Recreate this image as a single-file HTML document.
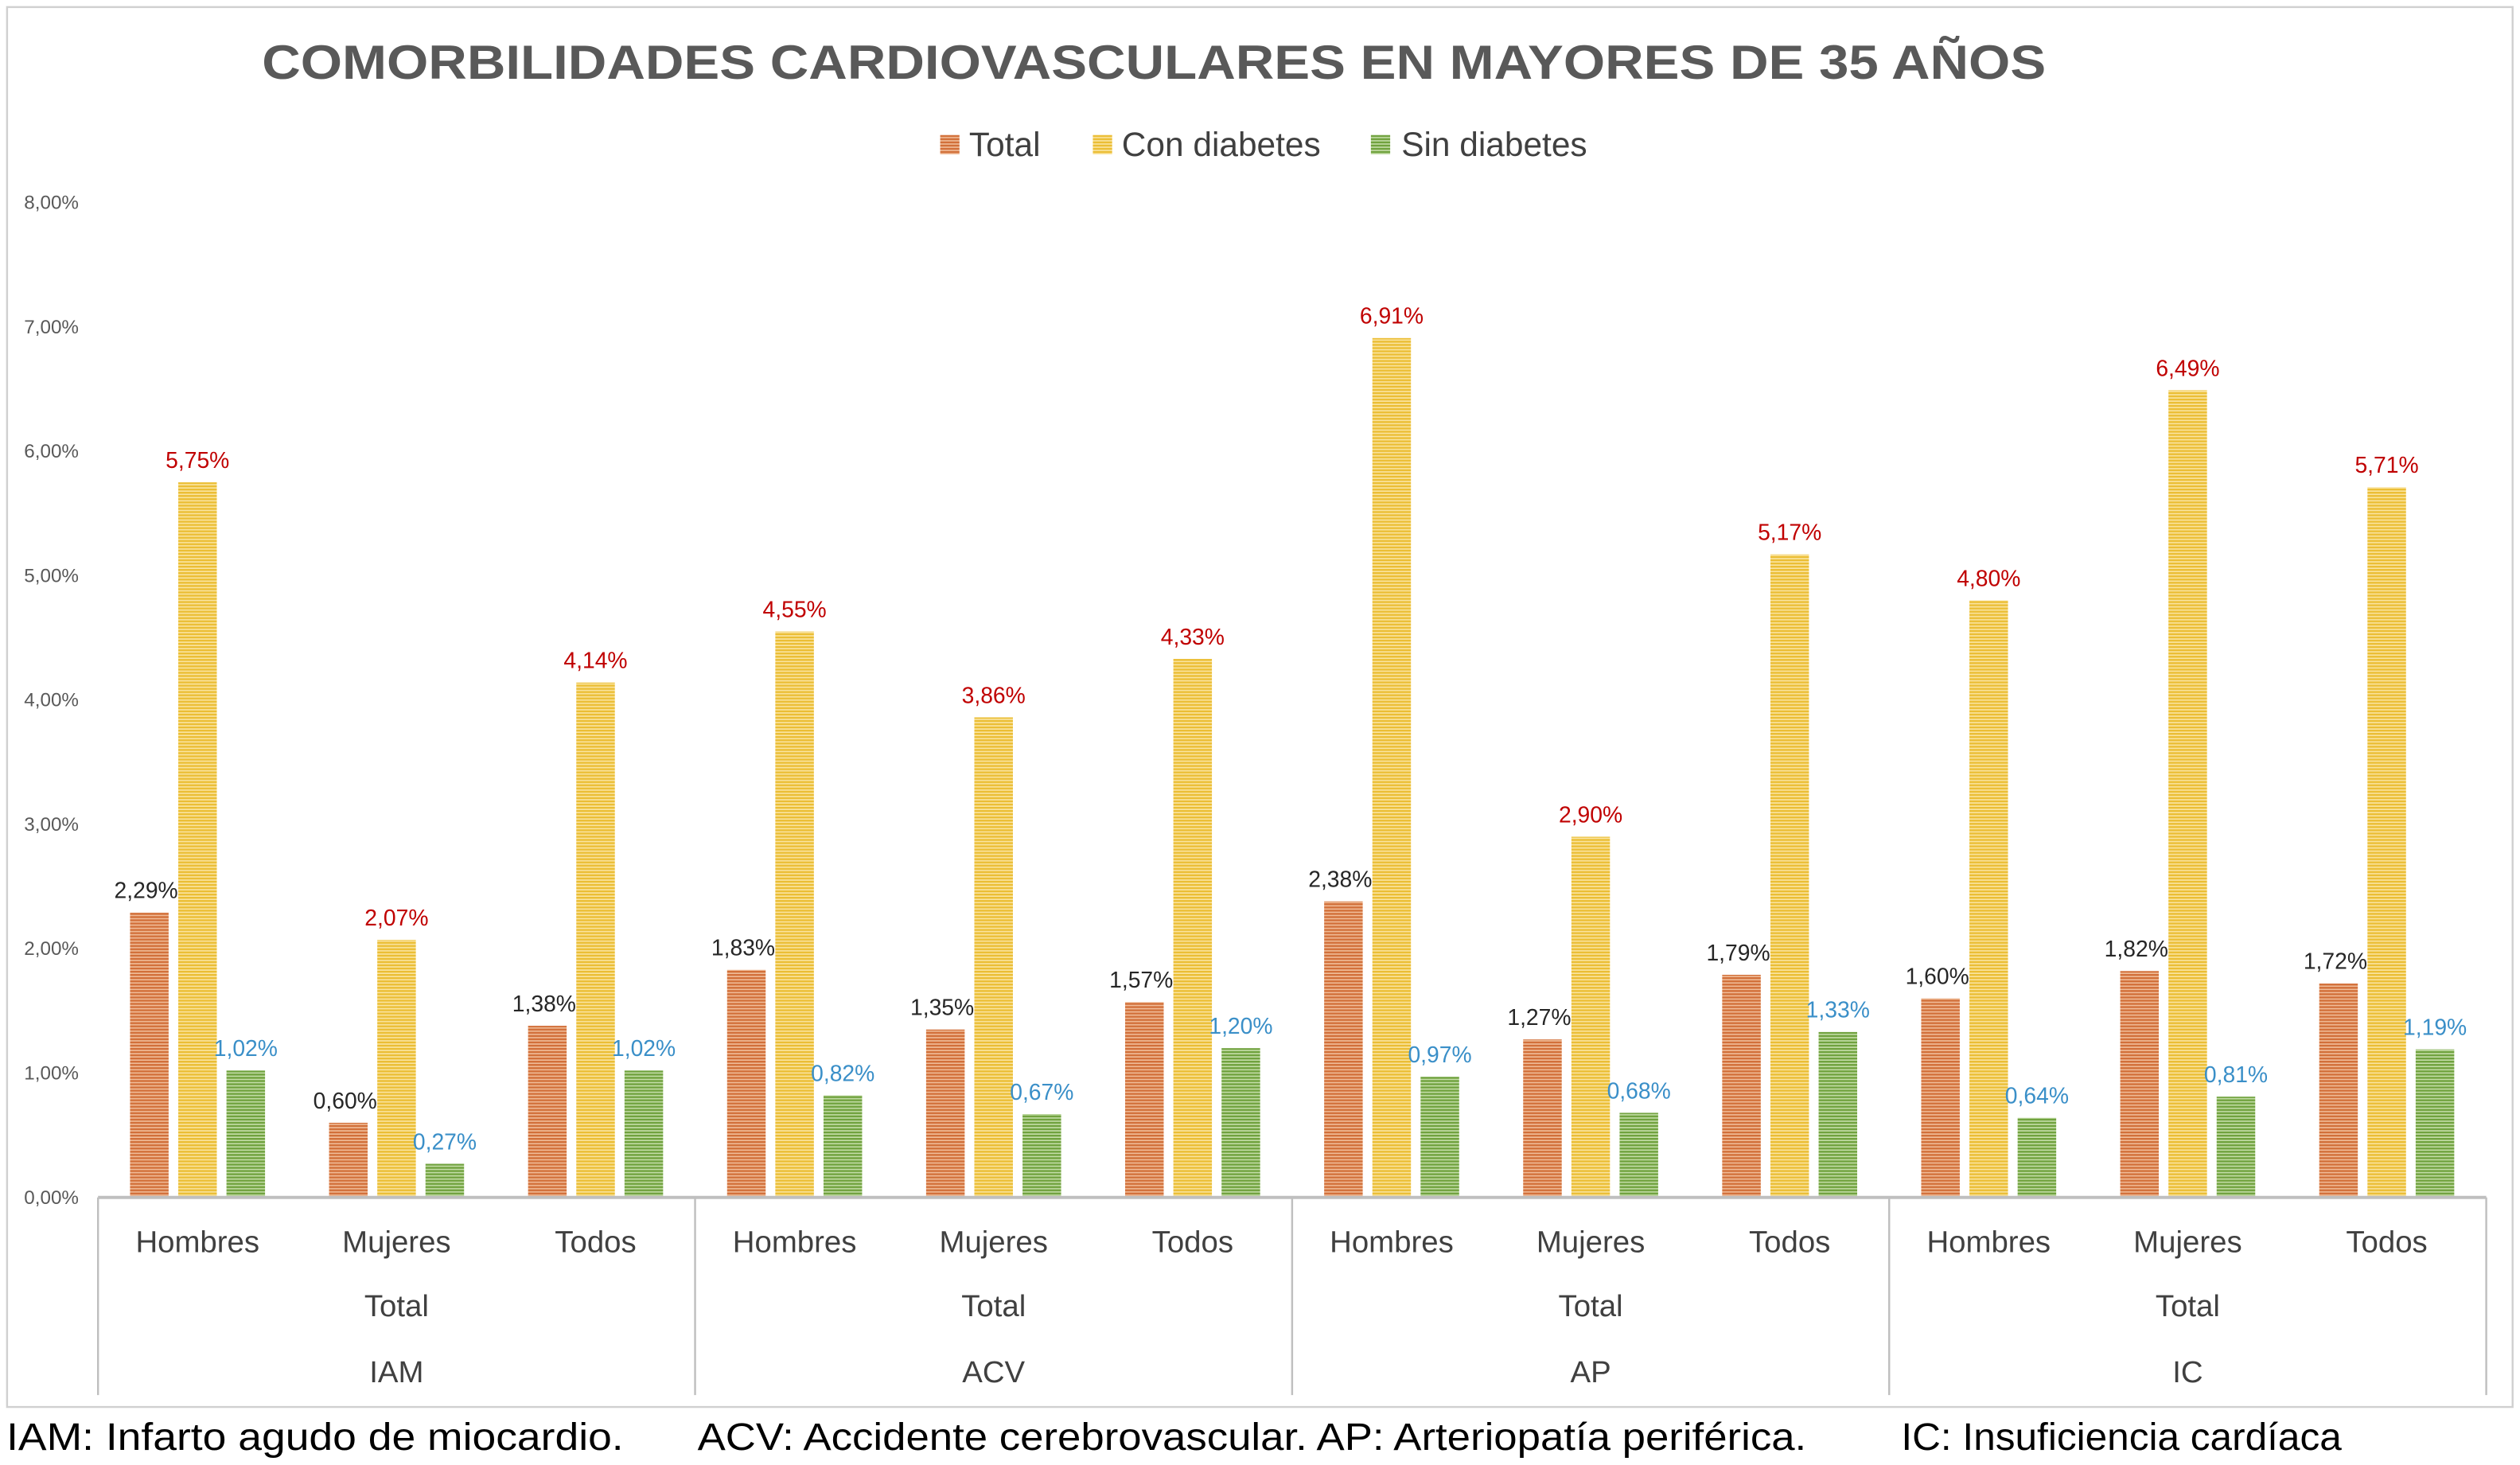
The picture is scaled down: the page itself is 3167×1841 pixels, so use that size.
<!DOCTYPE html>
<html><head><meta charset="utf-8"><style>
html,body{margin:0;padding:0;background:#fff;}
svg{display:block;font-family:"Liberation Sans",sans-serif;}
</style></head><body>
<svg id="chart" width="3167" height="1841" viewBox="0 0 1568 911.5" preserveAspectRatio="none" xmlns="http://www.w3.org/2000/svg">
<defs>
<pattern id="pO" patternUnits="userSpaceOnUse" width="4" height="2"><rect width="4" height="2" fill="#D2703A"/><rect y="1.2" width="4" height="0.8" fill="#F0BC98"/></pattern>
<pattern id="pY" patternUnits="userSpaceOnUse" width="4" height="2"><rect width="4" height="2" fill="#EBBE35"/><rect y="1.2" width="4" height="0.8" fill="#FAE4A0"/></pattern>
<pattern id="pG" patternUnits="userSpaceOnUse" width="4" height="2"><rect width="4" height="2" fill="#70A23E"/><rect y="1.2" width="4" height="0.8" fill="#C4DDA8"/></pattern>
</defs>
<rect x="4.4" y="4.4" width="1559" height="871" fill="#fff" stroke="#D0D0D0" stroke-width="1.2"/>
<text x="163" y="49" textLength="1110" lengthAdjust="spacingAndGlyphs" font-size="30" font-weight="bold" fill="#595959">COMORBILIDADES CARDIOVASCULARES EN MAYORES DE 35 AÑOS</text>
<g font-size="21" fill="#404040">
<g><rect x="585" y="84" width="12" height="12" fill="url(#pO)"/><text x="603" y="97">Total</text></g>
<g><rect x="680" y="84" width="12" height="12" fill="url(#pY)"/><text x="698" y="97">Con diabetes</text></g>
<g><rect x="853" y="84" width="12" height="12" fill="url(#pG)"/><text x="872" y="97">Sin diabetes</text></g>
</g>
<g id="plot"></g>
<g font-size="24" fill="#000">
<text x="4" y="902" textLength="384" lengthAdjust="spacingAndGlyphs">IAM: Infarto agudo de miocardio.</text>
<text x="434" y="902" textLength="690" lengthAdjust="spacingAndGlyphs">ACV: Accidente cerebrovascular. AP: Arteriopatía periférica.</text>
<text x="1183" y="902" textLength="274" lengthAdjust="spacingAndGlyphs">IC: Insuficiencia cardíaca</text>
</g>
</svg>
<script>
const categories = ["Hombres","Mujeres","Todos","Hombres","Mujeres","Todos","Hombres","Mujeres","Todos","Hombres","Mujeres","Todos"];
const groups = ["IAM","ACV","AP","IC"];
const totalValues = [2.29,0.60,1.38,1.83,1.35,1.57,2.38,1.27,1.79,1.60,1.82,1.72];
const conValues = [5.75,2.07,4.14,4.55,3.86,4.33,6.91,2.90,5.17,4.80,6.49,5.71];
const sinValues = [1.02,0.27,1.02,0.82,0.67,1.20,0.97,0.68,1.33,0.64,0.81,1.19];
const yTicks = [0,1,2,3,4,5,6,7,8];

const NS="http://www.w3.org/2000/svg";
const plot=document.getElementById('plot');
const x0=61,x1=1547,yBase=745,yTop=126,yMax=8;
const catW=(x1-x0)/categories.length;
const y=v=>yBase-(v/yMax)*(yBase-yTop);
const xc=i=>x0+catW*(i+0.5);
const fmt=v=>v.toFixed(2).replace('.',',')+'%';
function mk(tag,attrs,parent){const e=document.createElementNS(NS,tag);for(const k in attrs)e.setAttribute(k,attrs[k]);(parent||plot).appendChild(e);return e;}

yTicks.forEach(t=>{
  const tx=mk('text',{x:49,y:y(t)+4,'text-anchor':'end','font-size':12,fill:'#595959'});
  
  
  tx.textContent=fmt(t);
});

const series=[
 {vals:totalValues,fill:'url(#pO)',off:-30,col:'#262626',lx:-2,name:'total'},
 {vals:conValues,fill:'url(#pY)',off:0,col:'#C00000',lx:0,name:'con-diabetes'},
 {vals:sinValues,fill:'url(#pG)',off:30,col:'#3A8FC8',lx:0,name:'sin-diabetes'}
];
const bw=24;
series.forEach(s=>{
  s.vals.forEach((v,i)=>{
    const cx=xc(i)+s.off;
    const r=mk('rect',{x:cx-bw/2,y:y(v),width:bw,height:yBase-y(v),fill:s.fill});
    
    
    const t=mk('text',{x:cx+s.lx,y:y(v)-9,'text-anchor':'middle','font-size':14,fill:s.col});
    
    
    t.textContent=fmt(v);
  });
});

const ax=mk('line',{x1:x0,y1:yBase,x2:x1,y2:yBase,stroke:'#BFBFBF','stroke-width':2});


for(let g=0;g<=groups.length;g++){
  const gx=x0+g*3*catW;
  const l=mk('line',{x1:gx,y1:yBase,x2:gx,y2:868,stroke:'#BFBFBF','stroke-width':1.2});
  
  
}
categories.forEach((c,i)=>{
  const t=mk('text',{x:xc(i),y:779,'text-anchor':'middle','font-size':19,fill:'#404040'});
  
  
  t.textContent=c;
});
groups.forEach((g,k)=>{
  const cx=x0+(k*3+1.5)*catW;
  const t=mk('text',{x:cx,y:819,'text-anchor':'middle','font-size':19,fill:'#404040'});
  
  
  t.textContent='Total';
  const t2=mk('text',{x:cx,y:860,'text-anchor':'middle','font-size':19,fill:'#404040'});
  
  
  t2.textContent=g;
});
</script>
</body></html>
